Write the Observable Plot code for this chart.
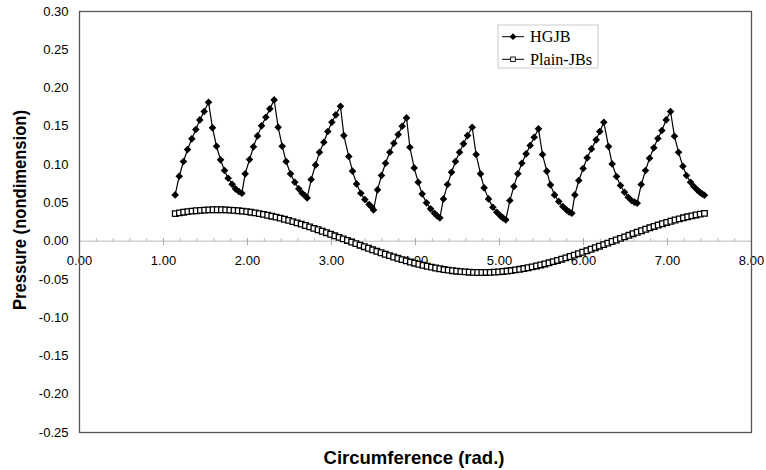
<!DOCTYPE html>
<html><head><meta charset="utf-8">
<script src="https://cdn.jsdelivr.net/npm/d3@7"></script>
<script src="https://cdn.jsdelivr.net/npm/@observablehq/plot@0.6"></script>
<style>body{margin:0;background:#fff}</style>
</head><body><div id="chart"></div>
<script>
// ---- data ----
const hgjbX = [1.139,1.187,1.238,1.286,1.337,1.385,1.432,1.484,1.536,
1.583,1.631,1.679,1.726,1.770,1.817,1.857,1.897,1.933,
1.972,2.024,2.071,2.119,2.167,2.218,2.266,2.317,
2.365,2.413,2.460,2.512,2.563,2.611,2.651,2.682,2.710,
2.758,2.810,2.857,2.909,2.956,3.004,3.052,3.107,
3.147,3.206,3.250,3.298,3.349,3.397,3.448,3.480,3.500,
3.548,3.595,3.643,3.694,3.742,3.794,3.841,3.893,
3.933,3.984,4.032,4.079,4.131,4.179,4.226,4.258,4.290,
4.333,4.381,4.429,4.476,4.524,4.571,4.619,4.675,
4.722,4.774,4.817,4.869,4.921,4.968,5.012,5.044,5.075,
5.123,5.171,5.218,5.266,5.317,5.365,5.413,5.464,
5.512,5.563,5.607,5.655,5.706,5.754,5.798,5.829,5.861,
5.897,5.944,5.996,6.044,6.095,6.151,6.194,6.242,
6.298,6.341,6.393,6.440,6.488,6.532,6.571,6.607,6.639,
6.687,6.738,6.786,6.837,6.885,6.933,6.984,7.036,
7.083,7.131,7.183,7.226,7.274,7.313,7.353,7.385,7.413,7.440];
const hgjbP = [0.0604,0.0848,0.1040,0.1197,0.1336,0.1458,0.1584,0.1693,0.1815,
0.1480,0.1240,0.1062,0.0922,0.0822,0.0744,0.0683,0.0648,0.0626,
0.0879,0.1066,0.1232,0.1375,0.1506,0.1619,0.1728,0.1845,
0.1488,0.1240,0.1040,0.0879,0.0770,0.0683,0.0626,0.0596,0.0565,
0.0805,0.0996,0.1162,0.1292,0.1432,0.1554,0.1650,0.1763,
0.1379,0.1105,0.0914,0.0748,0.0626,0.0543,0.0478,0.0443,0.0408,
0.0670,0.0857,0.1018,0.1162,0.1279,0.1392,0.1501,0.1610,
0.1227,0.0957,0.0770,0.0617,0.0500,0.0422,0.0365,0.0330,0.0304,
0.0552,0.0739,0.0900,0.1040,0.1162,0.1271,0.1379,0.1488,
0.1131,0.0879,0.0696,0.0552,0.0443,0.0378,0.0330,0.0300,0.0278,
0.0530,0.0713,0.0879,0.1018,0.1140,0.1249,0.1358,0.1467,
0.1131,0.0914,0.0735,0.0604,0.0517,0.0452,0.0408,0.0382,0.0365,
0.0604,0.0792,0.0948,0.1088,0.1205,0.1323,0.1432,0.1554,
0.1236,0.1009,0.0844,0.0726,0.0639,0.0574,0.0530,0.0509,0.0496,
0.0739,0.0922,0.1083,0.1219,0.1340,0.1445,0.1584,0.1693,
0.1371,0.1162,0.0979,0.0857,0.0770,0.0713,0.0670,0.0639,0.0617,0.0600];

const plainX = [1.14,1.19,1.24,1.29,1.34,1.39,1.44,1.49,1.54,1.59,
1.64,1.69,1.74,1.79,1.84,1.89,1.94,1.99,2.04,2.09,
2.14,2.19,2.24,2.29,2.34,2.39,2.44,2.49,2.54,2.59,
2.64,2.69,2.74,2.79,2.84,2.89,2.94,2.99,3.04,3.09,
3.14,3.19,3.24,3.29,3.34,3.39,3.44,3.49,3.54,3.59,
3.64,3.69,3.74,3.79,3.84,3.89,3.94,3.99,4.04,4.09,
4.14,4.19,4.24,4.29,4.34,4.39,4.44,4.49,4.54,4.59,
4.64,4.69,4.74,4.79,4.84,4.89,4.94,4.99,5.04,5.09,
5.14,5.19,5.24,5.29,5.34,5.39,5.44,5.49,5.54,5.59,
5.64,5.69,5.74,5.79,5.84,5.89,5.94,5.99,6.04,6.09,
6.14,6.19,6.24,6.29,6.34,6.39,6.44,6.49,6.54,6.59,
6.64,6.69,6.74,6.79,6.84,6.89,6.94,6.99,7.04,7.09,
7.14,7.19,7.24,7.29,7.34,7.39,7.44];
const plainP = [0.0360,0.0369,0.0378,0.0385,0.0392,0.0397,0.0402,0.0405,0.0408,0.0410,
0.0410,0.0410,0.0408,0.0405,0.0402,0.0397,0.0392,0.0385,0.0378,0.0369,
0.0360,0.0350,0.0338,0.0326,0.0314,0.0300,0.0286,0.0271,0.0255,0.0238,
0.0222,0.0204,0.0186,0.0167,0.0149,0.0129,0.0110,0.0090,0.0070,0.0049,
0.0029,0.0009,-0.0012,-0.0032,-0.0053,-0.0073,-0.0093,-0.0113,-0.0133,-0.0152,
-0.0171,-0.0189,-0.0207,-0.0224,-0.0241,-0.0258,-0.0273,-0.0288,-0.0302,-0.0316,
-0.0328,-0.0340,-0.0351,-0.0361,-0.0371,-0.0379,-0.0386,-0.0393,-0.0398,-0.0402,
-0.0406,-0.0408,-0.0410,-0.0410,-0.0409,-0.0408,-0.0405,-0.0401,-0.0396,-0.0391,
-0.0384,-0.0376,-0.0368,-0.0358,-0.0348,-0.0336,-0.0324,-0.0311,-0.0298,-0.0283,
-0.0268,-0.0252,-0.0236,-0.0219,-0.0201,-0.0183,-0.0164,-0.0145,-0.0126,-0.0106,
-0.0086,-0.0066,-0.0046,-0.0026,-0.0005,0.0015,0.0036,0.0056,0.0076,0.0097,
0.0116,0.0136,0.0155,0.0174,0.0192,0.0210,0.0227,0.0244,0.0260,0.0276,
0.0291,0.0305,0.0318,0.0330,0.0342,0.0353,0.0363];

const yTicks = [0.30,0.25,0.20,0.15,0.10,0.05,0.00,-0.05,-0.10,-0.15,-0.20,-0.25];
const xMajor = [0,1,2,3,4,5,6,7,8];
const xMinor = [0.2,0.4,0.6,0.8,1.2,1.4,1.6,1.8,2.2,2.4,2.6,2.8,3.2,3.4,3.6,3.8,
4.2,4.4,4.6,4.8,5.2,5.4,5.6,5.8,6.2,6.4,6.6,6.8,7.2,7.4,7.6,7.8];
const seriesNames = ["HGJB", "Plain-JBs"];
const xTitle = "Circumference (rad.)";
const yTitle = "Pressure (nondimension)";

// ---- build tables ----
const hgjb = hgjbX.map((x, i) => ({x, p: hgjbP[i]}));
const plain = plainX.map((x, i) => ({x, p: plainP[i]}));

// ---- custom symbols ----
const diamondSym = {draw(c) { const r = 3.8; c.moveTo(0,-r); c.lineTo(r,0); c.lineTo(0,r); c.lineTo(-r,0); c.closePath(); }};
const squareSym = {draw(c) { const s = 2.8; c.moveTo(-s,-s); c.lineTo(s,-s); c.lineTo(s,s); c.lineTo(-s,s); c.closePath(); }};
const majorTickSym = {draw(c) { c.moveTo(0,-3); c.lineTo(0,4); }};
const minorTickSym = {draw(c) { c.moveTo(0,-3); c.lineTo(0,0); }};

const chart = Plot.plot({
  width: 766, height: 470,
  marginLeft: 79, marginRight: 15, marginTop: 11, marginBottom: 38,
  style: {fontFamily: "'Liberation Sans', Arial, sans-serif", fontSize: "13px", background: "#fff"},
  x: {domain: [0, 8], axis: null},
  y: {domain: [-0.25, 0.30], axis: null},
  marks: [
    Plot.ruleY([0], {stroke: "#b8b8b8", strokeWidth: 1}),
    Plot.dot(xMajor, {x: d => d, y: 0, symbol: majorTickSym, stroke: "#a8a8a8", strokeWidth: 1, fill: "none"}),
    Plot.dot(xMinor, {x: d => d, y: 0, symbol: minorTickSym, stroke: "#b8b8b8", strokeWidth: 1, fill: "none"}),
    Plot.text(xMajor, {x: d => d, y: 0, text: d => d.toFixed(2), dy: 19.5, fill: "#000", fontSize: 13}),
    Plot.text(yTicks, {x: 0, y: d => d, text: d => d.toFixed(2), textAnchor: "end", dx: -11, fill: "#000", fontSize: 13}),
    Plot.frame({stroke: "#555", strokeWidth: 1.3}),
    Plot.line(plain, {x: "x", y: "p", stroke: "#000", strokeWidth: 1}),
    Plot.dot(plain, {x: "x", y: "p", symbol: squareSym, fill: "#fff", stroke: "#000", strokeWidth: 1.3}),
    Plot.line(hgjb, {x: "x", y: "p", stroke: "#000", strokeWidth: 1.2}),
    Plot.dot(hgjb, {x: "x", y: "p", symbol: diamondSym, fill: "#000", stroke: "none"})
  ]
});
document.getElementById("chart").appendChild(chart);

// ---- titles & legend ----
const svg = d3.select(chart);
svg.append("text").attr("transform", "translate(21,210) rotate(-90)")
  .attr("text-anchor", "middle").attr("dominant-baseline", "middle")
  .attr("font-family", "'Liberation Sans', Arial, sans-serif").attr("font-weight", "bold")
  .attr("font-size", 18.5).attr("fill", "#000")
  .attr("textLength", 200).attr("lengthAdjust", "spacingAndGlyphs").text(yTitle);
svg.append("text").attr("x", 414).attr("y", 464).attr("text-anchor", "middle")
  .attr("font-family", "'Liberation Sans', Arial, sans-serif").attr("font-weight", "bold")
  .attr("font-size", 18.5).attr("fill", "#000").text(xTitle);

const lg = svg.append("g").attr("transform", "translate(498,25)").attr("text-anchor", "start");
lg.append("rect").attr("width", 100).attr("height", 43).attr("fill", "#fff").attr("stroke", "#ccc");
const rows = [{y: 11.7, sym: "d"}, {y: 34.3, sym: "s"}];
rows.forEach((r, i) => {
  lg.append("line").attr("x1", 4).attr("x2", 26).attr("y1", r.y).attr("y2", r.y).attr("stroke", "#000");
  if (r.sym === "d") {
    lg.append("path").attr("d", `M15,${r.y-3.4}L18.4,${r.y}L15,${r.y+3.4}L11.6,${r.y}Z`).attr("fill", "#000");
  } else {
    lg.append("rect").attr("x", 12.7).attr("y", r.y - 2.3).attr("width", 4.6).attr("height", 4.6)
      .attr("fill", "#fff").attr("stroke", "#000").attr("stroke-width", 0.9);
  }
  lg.append("text").attr("x", 32).attr("y", r.y + 5.6).attr("text-anchor", "start")
    .attr("font-family", "'Liberation Serif', 'Times New Roman', serif")
    .attr("font-size", 16.2).attr("fill", "#000").text(seriesNames[i]);
});
</script></body></html>
